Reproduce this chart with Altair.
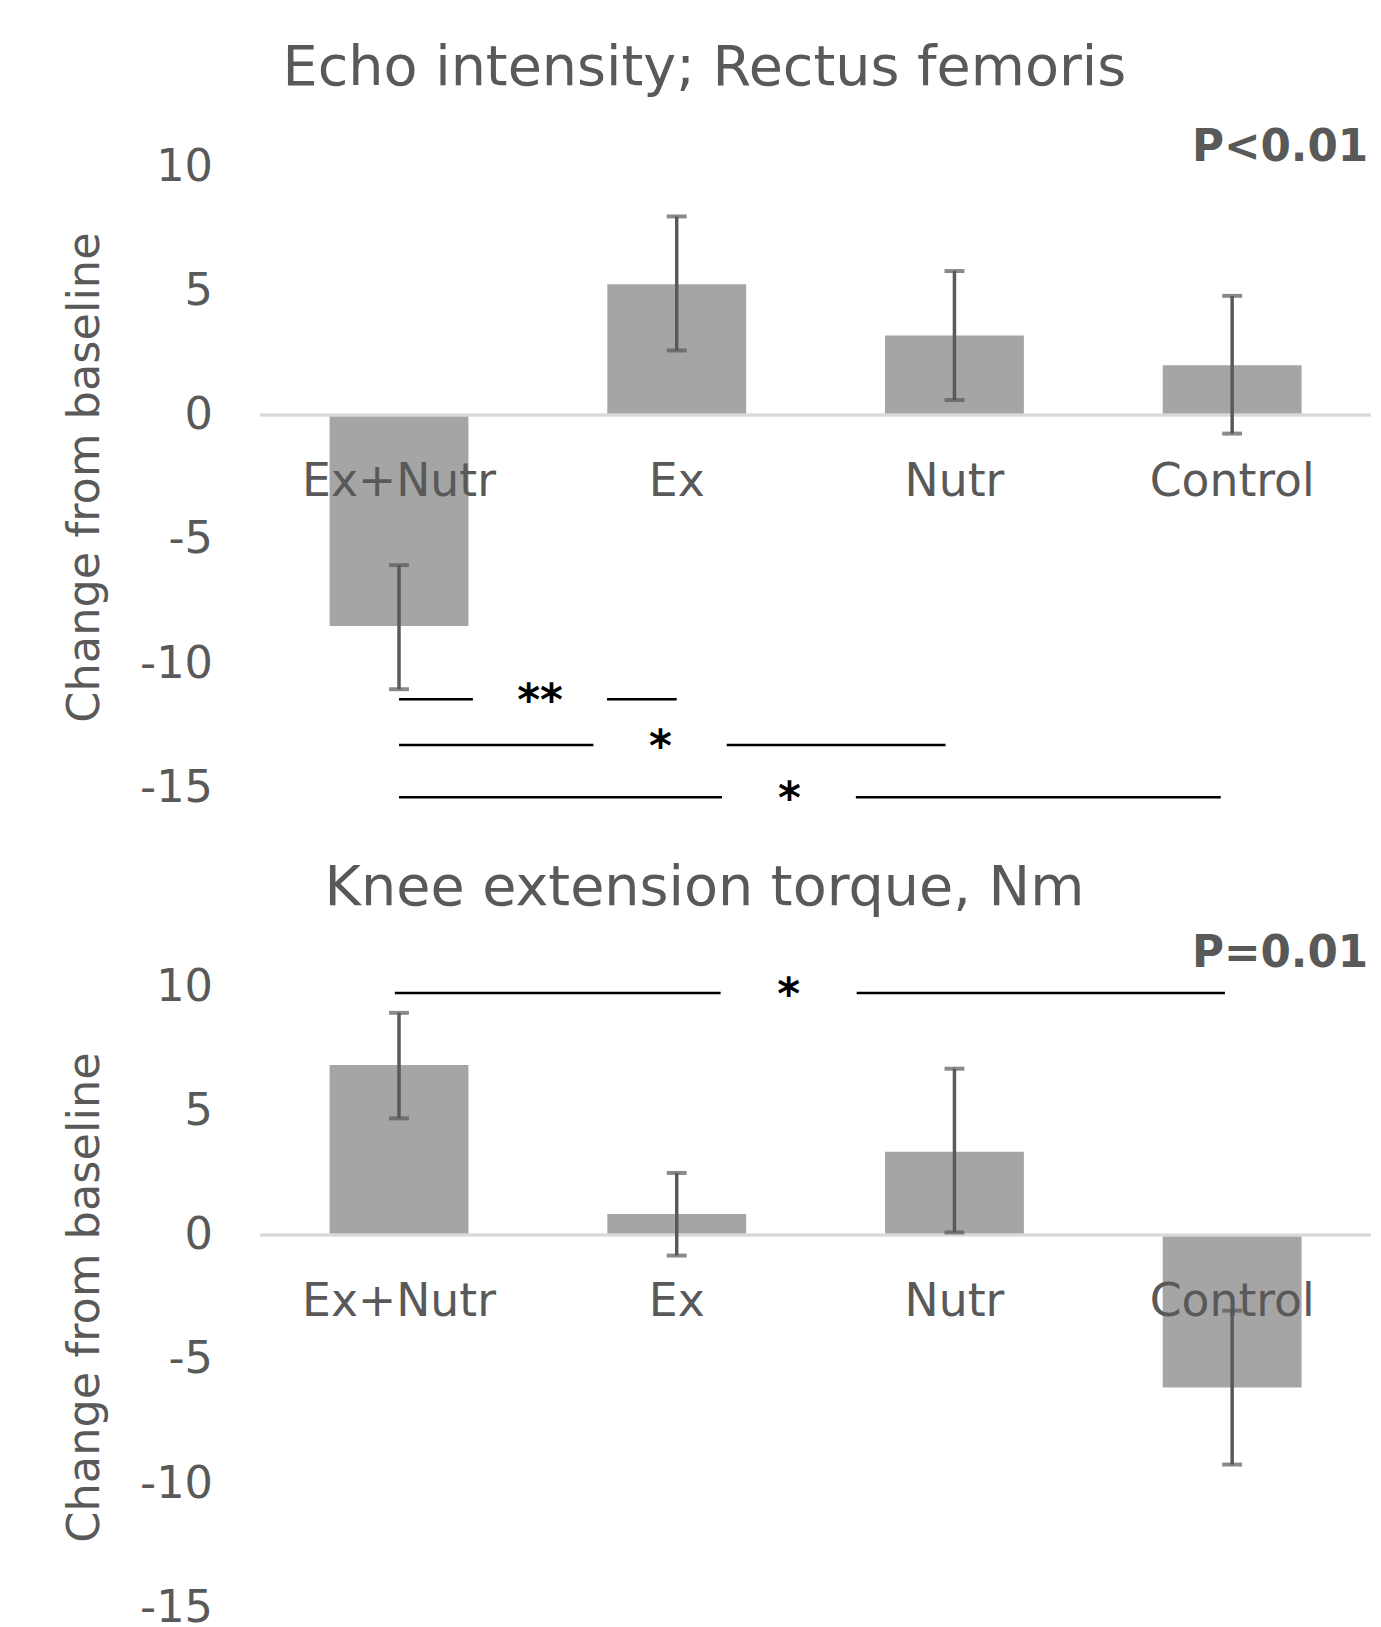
import altair as alt
import pandas as pd

groups = ["Ex+Nutr", "Ex", "Nutr", "Control"]

echo_mean = [-8.5, 5.27, 3.2, 2.0]
echo_lo = [-11.05, 2.6, 0.6, -0.75]
echo_hi = [-6.05, 8.0, 5.8, 4.8]

torque_mean = [6.85, 0.85, 3.35, -6.15]
torque_lo = [4.7, -0.83, 0.1, -9.25]
torque_hi = [8.95, 2.5, 6.7, -3.05]

# significance brackets (positions in group-index units)
echo_sig_y = [-11.45, -13.3, -15.4]
echo_sig_start = [0.0, 0.0, 0.0]
echo_sig_gap_a = [0.266, 0.70, 1.163]
echo_sig_gap_b = [0.749, 1.18, 1.645]
echo_sig_end = [1.0, 1.968, 2.959]
echo_sig_star = [0.508, 0.941, 1.406]
echo_sig_label = ["**", "*", "*"]

torque_sig_y = [9.75]
torque_sig_start = [-0.015]
torque_sig_gap_a = [1.158]
torque_sig_gap_b = [1.648]
torque_sig_end = [2.974]
torque_sig_star = [1.403]
torque_sig_label = ["*"]

titles = ["Echo intensity; Rectus femoris", "Knee extension torque, Nm"]
p_labels = ["P<0.01", "P=0.01"]
p_y = [10.75, 11.3]
p_x = 3.49

y_ticks = [10, 5, 0, -5, -10, -15]

FONT = "DejaVu Sans"
GREY = "#595959"
W, H = 1119, 625


def panel(title, mean, lo, hi, sy, s0, ga, gb, s1, sx, slab, plab, py, title_offset):
    df = pd.DataFrame({"group": groups, "mean": mean, "lo": lo, "hi": hi})
    seg = pd.DataFrame({
        "x": s0 + gb,
        "x2": ga + s1,
        "y": sy + sy,
    })
    stars = pd.DataFrame({"x": sx, "y": sy, "label": slab})
    pdf = pd.DataFrame({"x": [p_x], "y": [py], "label": [plab]})

    band = alt.Scale(domain=groups, paddingInner=0.5, paddingOuter=0.25)
    lin = alt.Scale(domain=[-0.5, 3.5], nice=False, zero=False)
    yscale = alt.Scale(domain=[-15, 10], nice=False, zero=False)
    ytitle = "Change from baseline"
    yaxis = alt.Axis(
        values=y_ticks, grid=False, domain=False, ticks=False, tickSize=0,
        labelFont=FONT, labelFontSize=45, labelColor=GREY, labelPadding=48,
        labelExpr="datum.value + ''",
        title=ytitle, titleFont=FONT, titleFontSize=45, titleFontWeight="normal",
        titleColor=GREY, titleX=-177, titleY=H / 2, titleAngle=-90,
        titleBaseline="middle", titleAlign="center",
    )
    xb = alt.X("group:N", sort=groups, scale=band, axis=None)

    base = alt.Chart(df)
    bars = base.mark_bar(color="#a5a5a5").encode(
        x=xb,
        y=alt.Y("mean:Q", scale=yscale, axis=yaxis, title=ytitle),
        y2=alt.datum(0),
    )
    zero = base.mark_rule(color="#d9d9d9", strokeWidth=2.5).encode(
        y=alt.datum(0)
    )
    labels = base.mark_text(
        font=FONT, fontSize=46, color=GREY, baseline="middle", dy=68
    ).encode(x=xb, y=alt.datum(0), text="group:N")
    err = base.mark_rule(color=GREY, strokeWidth=3.5).encode(
        x=xb, y=alt.Y("lo:Q", title=ytitle), y2="hi:Q"
    )
    cap_lo = base.mark_tick(color=GREY, thickness=4, size=20).encode(
        x=xb, y=alt.Y("lo:Q", title=ytitle)
    )
    cap_hi = base.mark_tick(color=GREY, thickness=4, size=20).encode(
        x=xb, y=alt.Y("hi:Q", title=ytitle)
    )
    lines = alt.Chart(seg).mark_rule(color="black", strokeWidth=2.5).encode(
        x=alt.X("x:Q", scale=lin, axis=None),
        x2="x2:Q",
        y=alt.Y("y:Q", title=ytitle),
    )
    startxt = alt.Chart(stars).mark_text(
        font=FONT, fontSize=44, fontWeight="bold", color="black",
        baseline="alphabetic", dy=16,
    ).encode(
        x=alt.X("x:Q", scale=lin, axis=None),
        y=alt.Y("y:Q", title=ytitle),
        text="label:N",
    )
    ptxt = alt.Chart(pdf).mark_text(
        font=FONT, fontSize=44, fontWeight="bold", color=GREY,
        align="right", baseline="middle",
    ).encode(
        x=alt.X("x:Q", scale=lin, axis=None),
        y=alt.Y("y:Q", title=ytitle),
        text="label:N",
    )
    return alt.layer(
        bars, zero, labels, err, cap_lo, cap_hi, lines, startxt, ptxt
    ).resolve_scale(x="independent").properties(
        width=W, height=H,
        title=alt.TitleParams(
            title, font=FONT, fontSize=56, fontWeight="normal", color=GREY,
            anchor="middle", frame="group", dx=-112, offset=title_offset,
            baseline="alphabetic",
        ),
    )


top = panel(titles[0], echo_mean, echo_lo, echo_hi, echo_sig_y, echo_sig_start,
            echo_sig_gap_a, echo_sig_gap_b, echo_sig_end, echo_sig_star,
            echo_sig_label, p_labels[0], p_y[0], -14)
bottom = panel(titles[1], torque_mean, torque_lo, torque_hi, torque_sig_y,
               torque_sig_start, torque_sig_gap_a, torque_sig_gap_b,
               torque_sig_end, torque_sig_star, torque_sig_label, p_labels[1],
               p_y[1], -28)

chart = alt.vconcat(top, bottom, spacing=38).properties(
    padding={"left": 55, "top": 26, "right": 0, "bottom": 0},
    background="white",
).configure_view(stroke=None)

chart.save("out.html", embed_options={"renderer": "svg", "actions": False})
